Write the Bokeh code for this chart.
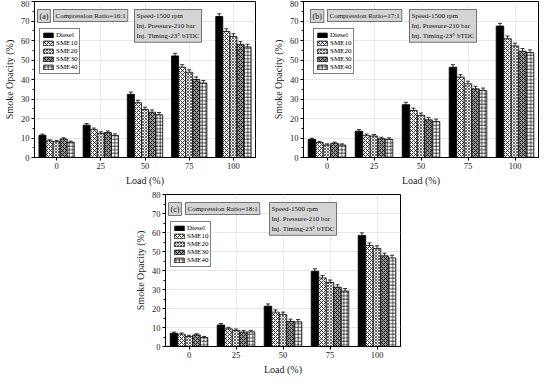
from bokeh.plotting import figure
from bokeh.models import (ColumnDataSource, Whisker, Label, Legend, LegendItem,
                          SingleIntervalTicker, Range1d, Spacer)
from bokeh.layouts import row, column
from bokeh.transform import dodge
from bokeh.embed import file_html
from bokeh.resources import INLINE

loads = ["0", "25", "50", "75", "100"]
series = ["Diesel", "SME10", "SME20", "SME30", "SME40"]

# Panel (a) CR 16:1
a_diesel = [11.4, 16.6, 32.4, 52.1, 72.3]
a_sme10 = [8.5, 14.3, 28.1, 46.3, 64.6]
a_sme20 = [8.1, 12.4, 24.6, 43.7, 62.1]
a_sme30 = [9.5, 12.8, 23.2, 40.0, 58.0]
a_sme40 = [7.8, 11.3, 21.9, 38.2, 56.7]
# Panel (b) CR 17:1
b_diesel = [9.3, 13.5, 27.1, 46.3, 67.4]
b_sme10 = [7.7, 11.2, 24.1, 41.2, 60.9]
b_sme20 = [6.4, 11.0, 21.6, 37.8, 57.2]
b_sme30 = [7.3, 9.6, 19.3, 35.2, 54.5]
b_sme40 = [6.4, 9.3, 18.5, 34.3, 53.8]
# Panel (c) CR 18:1
c_diesel = [7.0, 11.3, 21.2, 39.6, 58.4]
c_sme10 = [6.5, 9.3, 18.1, 36.1, 53.1]
c_sme20 = [5.3, 8.4, 16.9, 33.7, 51.6]
c_sme30 = [6.1, 7.6, 13.2, 31.2, 47.7]
c_sme40 = [4.7, 7.7, 13.0, 29.2, 46.6]
# error bar half-widths by load
err = [0.6, 0.8, 1.2, 1.3, 1.4]

FONT = "Liberation Serif"
offsets = [-0.32, -0.16, 0.0, 0.16, 0.32]
styles = [
    dict(fill_color="black", hatch_pattern=None),
    dict(fill_color="white", hatch_pattern="diagonal_cross", hatch_scale=4, hatch_weight=0.8),
    dict(fill_color="white", hatch_pattern="diagonal_cross", hatch_scale=3, hatch_weight=0.6),
    dict(fill_color="#9a9a9a", hatch_pattern="diagonal_cross", hatch_scale=4, hatch_weight=0.9),
    dict(fill_color="white", hatch_pattern="cross", hatch_scale=3.5, hatch_weight=0.7),
]
LEG_H = 50


def panel(tag, cr, vals, fw, fh, bl, br, bt, bb, legend_x, tag_x, cr_x, info_x):
    p = figure(x_range=loads, y_range=Range1d(0, 80), frame_width=fw, frame_height=fh,
               min_border_left=bl, min_border_right=br, min_border_top=bt,
               min_border_bottom=bb, output_backend="svg", toolbar_location=None)
    data = {"load": loads}
    for name, v in zip(series, vals):
        data[name] = v
        data[name + "_up"] = [a + e for a, e in zip(v, err)]
        data[name + "_lo"] = [a - e for a, e in zip(v, err)]
    src = ColumnDataSource(data)
    items = []
    for name, off, st in zip(series, offsets, styles):
        kw = dict(line_color="black", line_width=0.8)
        if st.get("hatch_pattern"):
            kw.update(hatch_pattern=st["hatch_pattern"], hatch_scale=st["hatch_scale"],
                      hatch_weight=st["hatch_weight"], hatch_color="black")
        r = p.vbar(x=dodge("load", off, range=p.x_range), top=name, width=0.16,
                   bottom=0, source=src, fill_color=st["fill_color"], **kw)
        items.append(LegendItem(label=name, renderers=[r]))
        w = Whisker(source=src, base=dodge("load", off, range=p.x_range),
                    upper=name + "_up", lower=name + "_lo", line_width=0.8,
                    line_color="black")
        w.upper_head.size = 4
        w.lower_head.size = 4
        w.upper_head.line_width = 0.8
        w.lower_head.line_width = 0.8
        p.add_layout(w)

    leg = Legend(items=items, location=(legend_x, fh - 23 - LEG_H), border_line_color="black",
                 border_line_width=0.8, background_fill_color="white",
                 background_fill_alpha=1, padding=2, spacing=0, margin=0,
                 glyph_height=6, glyph_width=12, label_height=6, label_standoff=2,
                 label_text_font=FONT, label_text_font_size="7px",
                 label_text_line_height=1.0, label_text_color="black")
    p.add_layout(leg)

    box = dict(x_units="screen", y_units="screen", text_font=FONT, text_baseline="top",
               text_align="left", background_fill_color="#d4d4d4",
               border_line_color="#555555", border_line_width=0.8, padding=2,
               text_color="#111111")
    p.add_layout(Label(x=tag_x, y=fh - 8, text=tag, text_font_size="8px", **box))
    p.add_layout(Label(x=cr_x, y=fh - 8, text="Compression Ratio=" + cr,
                       text_font_size="7px", **box))
    p.add_layout(Label(x=info_x, y=fh - 8,
                       text="Speed-1500 rpm\nInj. Pressure-210 bar\nInj. Timing-23° bTDC",
                       text_font_size="7px", text_line_height=1.3, **box))

    p.xaxis.axis_label = "Load (%)"
    p.yaxis.axis_label = "Smoke Opacity (%)"
    for ax in (p.xaxis[0], p.yaxis[0]):
        ax.axis_label_text_font = FONT
        ax.axis_label_text_font_style = "normal"
        ax.axis_label_text_font_size = "10px"
        ax.axis_label_text_color = "#222222"
        ax.major_label_text_font = FONT
        ax.major_label_text_font_size = "8.5px"
        ax.major_label_text_color = "#222222"
        ax.axis_label_standoff = 3
        ax.major_label_standoff = 2
        ax.major_tick_out = 3
        ax.major_tick_in = 0
        ax.minor_tick_out = 2
        ax.minor_tick_in = 0
        ax.axis_line_color = "black"
        ax.major_tick_line_color = "black"
        ax.minor_tick_line_color = "black"
    p.yaxis.ticker = SingleIntervalTicker(interval=10, num_minor_ticks=2)
    p.xgrid.grid_line_color = "#ececec"
    p.ygrid.grid_line_color = "#e6e6e6"
    p.outline_line_color = "black"
    p.outline_line_alpha = 1
    p.x_range.range_padding = 0
    return p


pa = panel("(a)", "16:1", [a_diesel, a_sme10, a_sme20, a_sme30, a_sme40],
           221, 156, 29, 14, 1, 30, 5, 3, 19, 100)
pb = panel("(b)", "17:1", [b_diesel, b_sme10, b_sme20, b_sme30, b_sme40],
           235, 156, 34, 1, 1, 30, 10, 7, 24, 106)
pc = panel("(c)", "18:1", [c_diesel, c_sme10, c_sme20, c_sme30, c_sme40],
           235, 152, 30, 10, 6, 30, 5, 3, 20, 104)

layout = column(row(pa, pb), row(Spacer(width=131, height=10), pc))
open("out.html", "w").write(file_html(layout, INLINE))
